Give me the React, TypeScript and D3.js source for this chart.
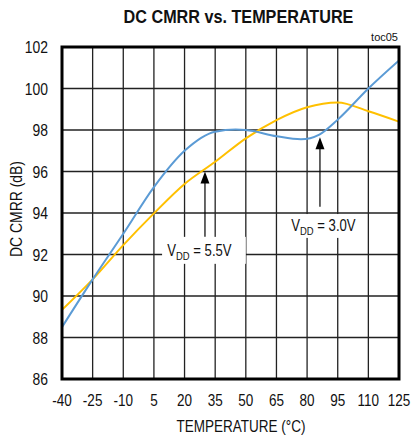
import React, { useRef, useLayoutEffect } from "react";
import * as d3 from "d3";

// temperature (°C) for each curve sample
const TEMP_30 = [-40, -25, -10, 5, 20, 35, 45, 50, 65, 77, 86, 95, 110, 125];
const CMRR_30 = [88.5, 90.8, 93.0, 95.25, 97.0, 97.92, 98.02, 98.0, 97.7, 97.55, 97.78, 98.5, 100.0, 101.35];

const TEMP_55 = [-40, -25, -10, 5, 20, 35, 50, 65, 80, 95, 110, 125];
const CMRR_55 = [89.33, 90.8, 92.45, 93.98, 95.4, 96.47, 97.6, 98.48, 99.1, 99.33, 98.9, 98.4];

const X_TICKS = [-40, -25, -10, 5, 20, 35, 50, 65, 80, 95, 110, 125];
const Y_TICKS = [86, 88, 90, 92, 94, 96, 98, 100, 102];

// callouts, in data units
const CALLOUTS = [
  { value: "5.5V", tipT: 30, tipV: 96.0, tailV: 92.85, box: [9, 50, 92.85, 91.55], textT: 27.3, textV: 91.93 },
  { value: "3.0V", tipT: 86.3, tipV: 97.65, tailV: 94.3, box: [67.2, 109.3, 93.95, 92.8], textT: 88, textV: 93.13 },
];

const BLUE = "#5b9bd5";
const GOLD = "#ffc000";
const FONT = "'Liberation Sans', Arial, sans-serif";
const SQUEEZE = 0.82;

export default function App() {
  const svgRef = useRef<SVGSVGElement | null>(null);

  useLayoutEffect(() => {
    const svg = svgRef.current;
    if (!svg) return;
    const W = 414;
    const H = 438;
    const M = { l: 62, r: 15, t: 47, b: 59 };

    const x = d3.scaleLinear().domain([-40, 125]).range([M.l, W - M.r]);
    const y = d3.scaleLinear().domain([86, 102]).range([H - M.b, M.t]);

    const sel = d3.select(svg);
    sel.selectAll("*").remove();

    sel.append("rect").attr("width", W).attr("height", H).attr("fill", "#fff");

    // narrow-looking text: regular sans squeezed horizontally
    const narrow = (
      px: number,
      py: number,
      str: string,
      size: number,
      anchor = "middle",
      extra = "",
      sx = SQUEEZE
    ) =>
      sel
        .append("text")
        .attr("transform", `translate(${px},${py})${extra} scale(${sx},1)`)
        .attr("text-anchor", anchor)
        .attr("font-family", FONT)
        .attr("font-size", size)
        .attr("fill", "#111")
        .text(str);

    // grid
    const grid = sel.append("g").attr("stroke", "#222").attr("stroke-width", 1.3);
    grid
      .selectAll("line.v")
      .data(X_TICKS)
      .enter()
      .append("line")
      .attr("x1", (d) => x(d))
      .attr("x2", (d) => x(d))
      .attr("y1", M.t)
      .attr("y2", H - M.b);
    grid
      .selectAll("line.h")
      .data(Y_TICKS)
      .enter()
      .append("line")
      .attr("x1", M.l)
      .attr("x2", W - M.r)
      .attr("y1", (d) => y(d))
      .attr("y2", (d) => y(d));

    // callout boxes hide the grid behind the labels
    CALLOUTS.forEach((c) => {
      sel
        .append("rect")
        .attr("x", x(c.box[0]))
        .attr("y", y(c.box[2]))
        .attr("width", x(c.box[1]) - x(c.box[0]))
        .attr("height", y(c.box[3]) - y(c.box[2]))
        .attr("fill", "#fff");
    });

    sel
      .append("clipPath")
      .attr("id", "plotclip")
      .append("rect")
      .attr("x", M.l)
      .attr("y", M.t)
      .attr("width", W - M.r - M.l)
      .attr("height", H - M.b - M.t);

    const line = d3
      .line<[number, number]>()
      .x((d) => x(d[0]))
      .y((d) => y(d[1]))
      .curve(d3.curveMonotoneX);

    const curves = sel.append("g").attr("clip-path", "url(#plotclip)");
    curves
      .append("path")
      .attr("d", line(TEMP_55.map((t, i) => [t, CMRR_55[i]]))!)
      .attr("fill", "none")
      .attr("stroke", GOLD)
      .attr("stroke-width", 2);
    curves
      .append("path")
      .attr("d", line(TEMP_30.map((t, i) => [t, CMRR_30[i]]))!)
      .attr("fill", "none")
      .attr("stroke", BLUE)
      .attr("stroke-width", 2);

    // arrows + labels
    CALLOUTS.forEach((c) => {
      const ax = x(c.tipT);
      const ay = y(c.tipV);
      sel
        .append("line")
        .attr("x1", ax)
        .attr("x2", ax)
        .attr("y1", ay + 8)
        .attr("y2", y(c.tailV))
        .attr("stroke", "#000")
        .attr("stroke-width", 1.2);
      sel
        .append("path")
        .attr("d", `M${ax},${ay} L${ax - 4.5},${ay + 12} L${ax + 4.5},${ay + 12} Z`)
        .attr("fill", "#000");
      const t = narrow(x(c.textT), y(c.textV), "", 16);
      t.append("tspan").text("V");
      t.append("tspan").attr("font-size", 11.5).attr("dy", 4).text("DD");
      t.append("tspan").attr("dy", -4).text(` = ${c.value}`);
    });

    // frame
    sel
      .append("rect")
      .attr("x", M.l)
      .attr("y", M.t)
      .attr("width", W - M.r - M.l)
      .attr("height", H - M.b - M.t)
      .attr("fill", "none")
      .attr("stroke", "#000")
      .attr("stroke-width", 3);

    // tick labels
    Y_TICKS.forEach((d) => narrow(48, y(d) + 6, String(d), 17, "end"));
    X_TICKS.forEach((d) => narrow(x(d), 406, String(d), 16.5));

    narrow(241, 432, "TEMPERATURE (°C)", 16.5);
    narrow(22, 209, "DC CMRR (dB)", 17, "middle", " rotate(-90)");

    narrow(238.5, 23, "DC CMRR vs. TEMPERATURE", 18.5, "middle", "", 0.875).attr(
      "font-weight",
      "bold"
    );

    sel
      .append("text")
      .attr("x", 398)
      .attr("y", 41)
      .attr("text-anchor", "end")
      .attr("font-family", FONT)
      .attr("font-size", 11)
      .attr("fill", "#111")
      .text("toc05");
  }, []);

  return (
    <div style={{ position: "absolute", left: 0, top: 0 }}>
      <svg ref={svgRef} width={414} height={438} style={{ display: "block" }} />
    </div>
  );
}
